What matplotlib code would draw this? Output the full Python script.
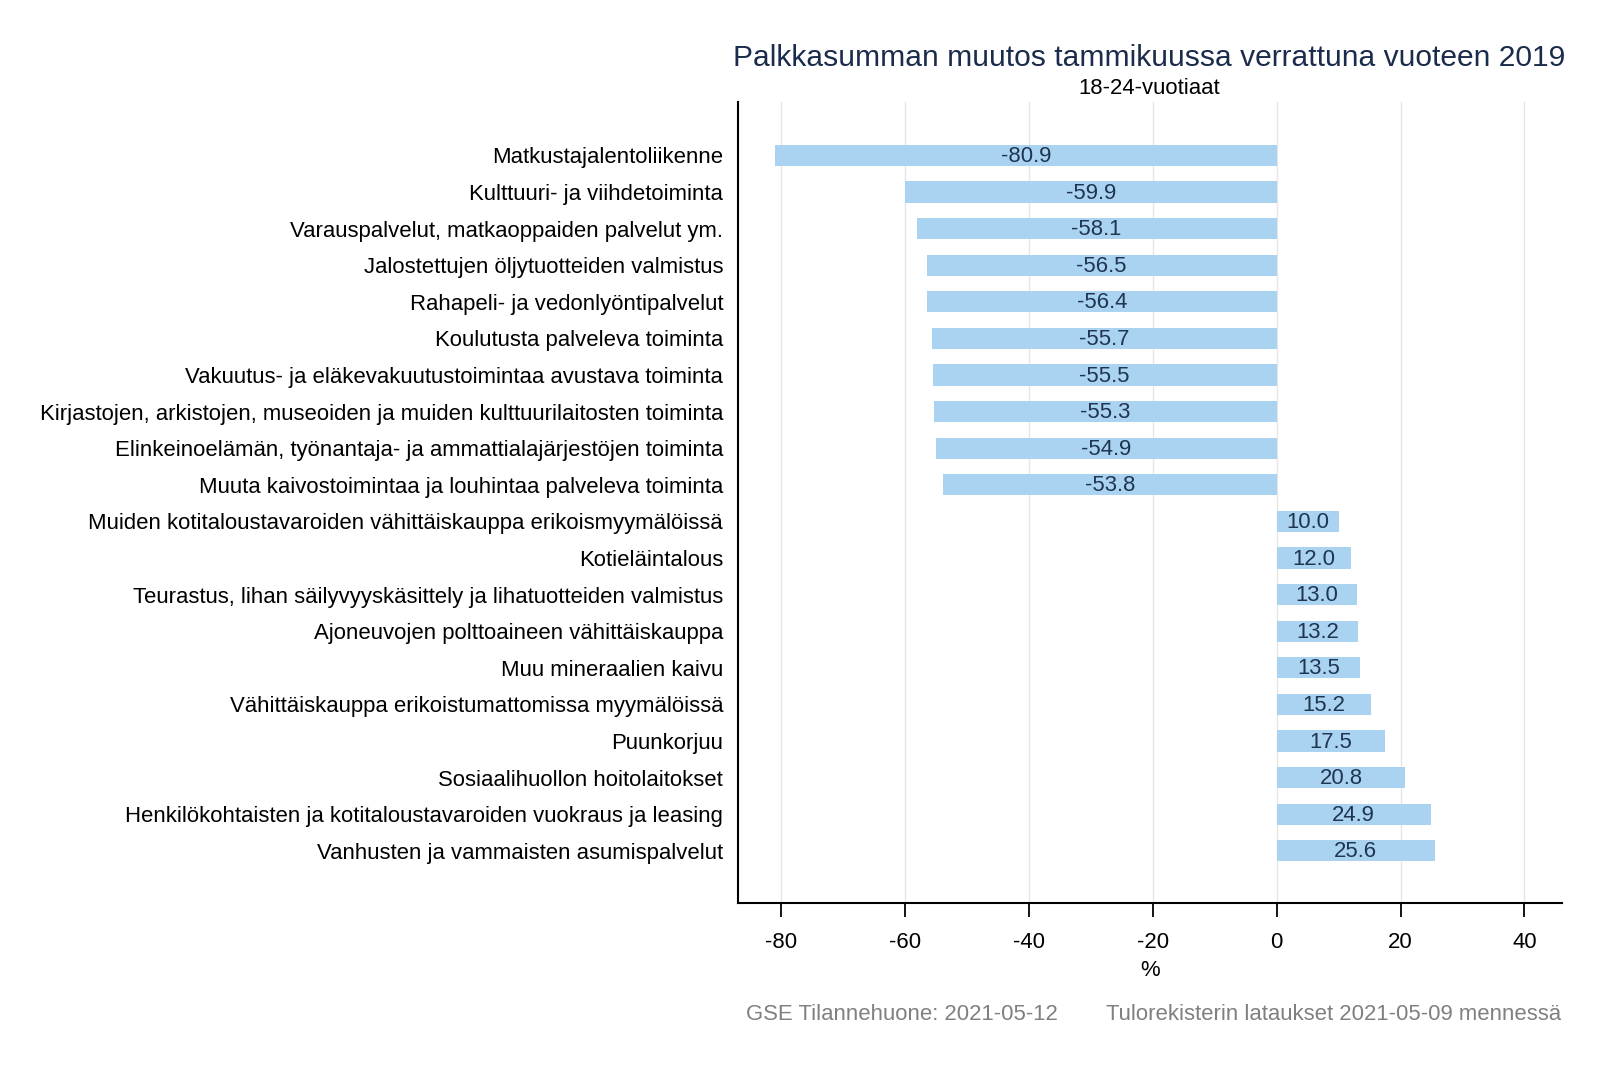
import matplotlib
matplotlib.use("Agg")
import matplotlib.pyplot as plt

categories = [
    "Matkustajalentoliikenne",
    "Kulttuuri- ja viihdetoiminta",
    "Varauspalvelut, matkaoppaiden palvelut ym.",
    "Jalostettujen öljytuotteiden valmistus",
    "Rahapeli- ja vedonlyöntipalvelut",
    "Koulutusta palveleva toiminta",
    "Vakuutus- ja eläkevakuutustoimintaa avustava toiminta",
    "Kirjastojen, arkistojen, museoiden ja muiden kulttuurilaitosten toiminta",
    "Elinkeinoelämän, työnantaja- ja ammattialajärjestöjen toiminta",
    "Muuta kaivostoimintaa ja louhintaa palveleva toiminta",
    "Muiden kotitaloustavaroiden vähittäiskauppa erikoismyymälöissä",
    "Kotieläintalous",
    "Teurastus, lihan säilyvyyskäsittely ja lihatuotteiden valmistus",
    "Ajoneuvojen polttoaineen vähittäiskauppa",
    "Muu mineraalien kaivu",
    "Vähittäiskauppa erikoistumattomissa myymälöissä",
    "Puunkorjuu",
    "Sosiaalihuollon hoitolaitokset",
    "Henkilökohtaisten ja kotitaloustavaroiden vuokraus ja leasing",
    "Vanhusten ja vammaisten asumispalvelut",
]
values = [-80.9, -59.9, -58.1, -56.5, -56.4, -55.7, -55.5, -55.3, -54.9, -53.8,
          10.0, 12.0, 13.0, 13.2, 13.5, 15.2, 17.5, 20.8, 24.9, 25.6]
xticks = [-80, -60, -40, -20, 0, 20, 40]

plt.rcParams['font.family'] = ['Liberation Sans', 'DejaVu Sans']

fig = plt.figure(figsize=(16, 10.67), dpi=100)
ax = fig.add_axes([0.461, 0.154, 0.515, 0.75])

bar_color = "#a9d3f1"
text_color = "#1f3550"
fs = 15.9
ypos = list(range(len(categories)))
ax.barh(ypos, values, height=0.58, color=bar_color, zorder=2)
for y, v in zip(ypos, values):
    ax.text(v / 2, y + 0.03, f"{v:.1f}", ha="center", va="center", fontsize=fs,
            color=text_color, zorder=3)

ax.set_yticks(ypos)
ax.set_yticklabels(categories, fontsize=fs, color="black")
ax.set_ylim(20 - 1 + 1.42, -1.45)
ax.set_xlim(-87, 46)
ax.set_xticks(xticks)
ax.set_xticklabels([str(t) for t in xticks], fontsize=fs)
ax.tick_params(axis="y", length=0, pad=10.5)
ax.tick_params(axis="x", length=10, width=1.3, direction="out", pad=11)
ax.grid(axis="x", color="#e6e6e6", linewidth=1, zorder=0)
ax.set_axisbelow(True)
for s in ["top", "right"]:
    ax.spines[s].set_visible(False)
for s in ["left", "bottom"]:
    ax.spines[s].set_linewidth(1.5)
    ax.spines[s].set_color("black")
ax.set_xlabel("%", fontsize=fs, labelpad=5)

cx = (ax.get_position().x0 + ax.get_position().x1) / 2
fig.text(cx, 0.946, "Palkkasumman muutos tammikuussa verrattuna vuoteen 2019",
         ha="center", va="center", fontsize=21.6, color="#1a2b4c")
fig.text(cx, 0.917, "18-24-vuotiaat", ha="center", va="center", fontsize=fs,
         color="black")
fig.text(0.466, 0.049, "GSE Tilannehuone: 2021-05-12", ha="left", va="center",
         fontsize=fs, color="#808080")
fig.text(0.976, 0.049, "Tulorekisterin lataukset 2021-05-09 mennessä", ha="right",
         va="center", fontsize=fs, color="#808080")

fig.savefig("out.png", dpi=100, facecolor="white")
